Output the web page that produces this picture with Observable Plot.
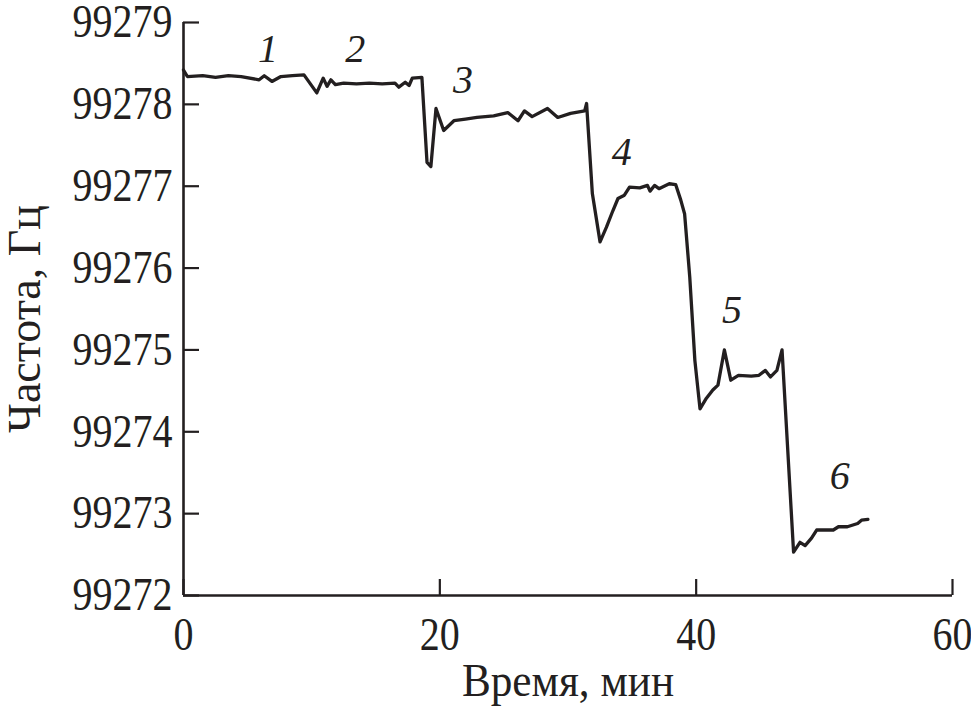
<!DOCTYPE html>
<html><head><meta charset="utf-8">
<script src="https://cdn.jsdelivr.net/npm/d3@7"></script>
<script src="https://cdn.jsdelivr.net/npm/@observablehq/plot@0.6"></script>
<style>
html,body{margin:0;padding:0;background:#fff;}
</style></head><body><div id="chart"></div>
<script>
// ---- data ----
const time = [0, 0.3, 1.5, 2.5, 3.5, 4.5, 5.9, 6.3, 6.9, 7.6, 8.5, 9.4,
  10.4, 10.9, 11.2, 11.5, 11.85, 12.5, 13.5, 14.5, 15.5, 16.5, 16.8, 17.3, 17.6, 17.85, 18.6,
  19.0, 19.3, 19.7, 20.3, 21.1, 22.0, 22.9, 24.2, 25.3, 26.1, 26.6, 27.2, 28.4, 29.2, 30.2, 31.3, 31.45,
  31.9, 32.5, 33.0, 33.5, 33.9, 34.4, 34.8, 35.6, 36.2, 36.4, 36.75, 37.1, 37.9, 38.4, 38.8, 39.1,
  39.5, 39.9, 40.3, 40.8, 41.3, 41.7, 42.2, 42.7, 43.3, 44.3, 44.9, 45.4, 45.8, 46.3, 46.7,
  47.6, 48.1, 48.5, 49.0, 49.4, 50.0, 50.7, 51.1, 51.8, 52.6, 52.9, 53.4];
const freq = [99278.42, 99278.34, 99278.35, 99278.33, 99278.35, 99278.34, 99278.30, 99278.35, 99278.28, 99278.34, 99278.35, 99278.36,
  99278.14, 99278.32, 99278.22, 99278.30, 99278.24, 99278.26, 99278.25, 99278.26, 99278.25, 99278.26, 99278.21, 99278.27, 99278.23, 99278.32, 99278.33,
  99277.29, 99277.24, 99277.95, 99277.68, 99277.80, 99277.82, 99277.84, 99277.86, 99277.90, 99277.80, 99277.92, 99277.85, 99277.95, 99277.84, 99277.89, 99277.92, 99278.01,
  99276.91, 99276.32, 99276.50, 99276.70, 99276.85, 99276.89, 99276.99, 99276.98, 99277.01, 99276.94, 99277.01, 99276.97, 99277.03, 99277.02, 99276.83, 99276.66,
  99275.89, 99274.87, 99274.28, 99274.41, 99274.51, 99274.57, 99275.00, 99274.63, 99274.69, 99274.68, 99274.69, 99274.75, 99274.67, 99274.75, 99275.00,
  99272.53, 99272.65, 99272.61, 99272.70, 99272.80, 99272.80, 99272.80, 99272.84, 99272.84, 99272.88, 99272.92, 99272.93];

const xTicks = [0, 20, 40, 60];
const yTicks = [99272, 99273, 99274, 99275, 99276, 99277, 99278, 99279];

const labelText = ["1", "2", "3", "4", "5", "6"];
const labelTime = [6.6, 13.4, 21.8, 34.2, 42.8, 51.2];
const labelFreq = [99278.68, 99278.68, 99278.29, 99277.41, 99275.48, 99273.46];

const xTitle = "Время, мин";
const yTitle = "Частота, Гц";

// ---- layout ----
const W = 971, H = 709, mL = 183, mR = 19, mT = 22, mB = 114;
const xDom = [0, 60], yDom = [99272, 99279];
const tickPx = 16;
const xPerPx = (xDom[1] - xDom[0]) / (W - mL - mR);
const yPerPx = (yDom[1] - yDom[0]) / (H - mT - mB);
const ink = "#231f20";

const series = time.map((t, i) => ({t, f: freq[i]}));
const labels = labelText.map((s, i) => ({s, t: labelTime[i], f: labelFreq[i]}));

const plot = Plot.plot({
  width: W, height: H,
  marginLeft: mL, marginRight: mR, marginTop: mT, marginBottom: mB,
  style: {fontFamily: "'Liberation Serif','Times New Roman',serif", background: "white", color: ink, overflow: "visible"},
  x: {domain: xDom},
  y: {domain: yDom},
  marks: [
    Plot.axisX({ticks: xTicks, tickSize: 0, tickPadding: 22, fontSize: 46, label: null, tickFormat: d3.format("d"), className: "cond"}),
    Plot.axisY({ticks: yTicks, tickSize: 0, tickPadding: 11, fontSize: 46, label: null, tickFormat: d3.format("d"), className: "cond"}),
    Plot.ruleY(yTicks, {x1: xDom[0], x2: xDom[0] + tickPx * xPerPx, stroke: ink, strokeWidth: 2.2}),
    Plot.ruleX(xTicks, {y1: yDom[0], y2: yDom[0] + tickPx * yPerPx, stroke: ink, strokeWidth: 2.2}),
    Plot.ruleX([xDom[0]], {stroke: ink, strokeWidth: 2.6}),
    Plot.ruleY([yDom[0]], {stroke: ink, strokeWidth: 2.6}),
    Plot.line(series, {x: "t", y: "f", stroke: ink, strokeWidth: 3.3, strokeLinejoin: "round"}),
    Plot.text(labels, {x: "t", y: "f", text: "s", fontStyle: "italic", fontSize: 40, fill: ink}),
    Plot.text([xTitle], {frameAnchor: "bottom", dy: 100, fontSize: 46, fill: ink, className: "xtitle"}),
    Plot.text([yTitle], {frameAnchor: "left", textAnchor: "middle", dx: -158, dy: 10, rotate: -90, fontSize: 46, fill: ink})
  ]
});
document.getElementById("chart").appendChild(plot);
// slightly condensed serif, as in the reference
function condense(sel, k) {
  plot.querySelectorAll(sel).forEach(t => {
    const len = t.getComputedTextLength();
    if (len > 0) {
      t.setAttribute("textLength", (len * k).toFixed(1));
      t.setAttribute("lengthAdjust", "spacingAndGlyphs");
    }
  });
}
condense(".cond text", 0.87);
condense(".xtitle text", 0.94);
</script></body></html>
